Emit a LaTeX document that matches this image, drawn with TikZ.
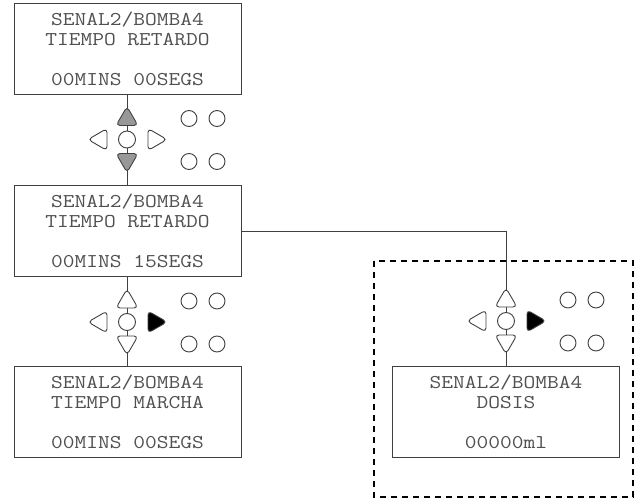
\documentclass[tikz,border=0pt]{standalone}
\usepackage{fontspec}
\newfontfamily\scrfont{Latin Modern Mono}[FakeStretch=1.17]
\definecolor{linec}{HTML}{404040}
\definecolor{textc}{HTML}{505050}
\definecolor{keygray}{HTML}{989898}
\begin{document}
\begin{tikzpicture}[x=1pt,y=-1pt,
  screen/.style={draw=linec, line width=0.9pt, minimum width=227pt, minimum height=91pt,
    inner sep=0pt, font=\fontsize{19.5}{20}\selectfont\scrfont, text=textc, align=center, fill=white},
  key/.style={draw=linec, line width=0.9pt, fill=white, rounded corners=4pt},
  conn/.style={draw=linec, line width=0.9pt},
  frame/.style={draw=black, line width=2pt, dash pattern=on 6pt off 5pt},
  upf/.style={}, downf/.style={}, rightf/.style={},
  keypad/.pic={
    \draw[key, upf] (0,-14) -- (11,-14) -- (0,-33) -- (-11,-14) -- cycle;
    \draw[key, downf] (0,14) -- (11,14) -- (0,33) -- (-11,14) -- cycle;
    \draw[key] (-20,0) -- (-20,-11) -- (-39,0) -- (-20,11) -- cycle;
    \draw[key, rightf] (21,0) -- (21,-11) -- (40,0) -- (21,11) -- cycle;
    \draw[key] (0,0) circle (8.5pt);
    \draw[key] (62,-21) circle (8pt);
    \draw[key] (90,-21) circle (8pt);
    \draw[key] (62,22) circle (8pt);
    \draw[key] (90,22) circle (8pt);
  }]
\useasboundingbox (0,0) rectangle (641,503);
\draw[frame] (374,261) rectangle (633,497);
\node[screen] (s1) at (127.5,48.5) {SENAL2/BOMBA4\\TIEMPO RETARDO\\[20pt]00MINS 00SEGS};
\node[screen] (s2) at (127.5,231) {SENAL2/BOMBA4\\TIEMPO RETARDO\\[20pt]00MINS 15SEGS};
\node[screen] (s3) at (127.5,412) {SENAL2/BOMBA4\\TIEMPO MARCHA\\[20pt]00MINS 00SEGS};
\node[screen] (s4) at (506,411.5) {SENAL2/BOMBA4\\DOSIS\\[20pt]00000ml};
\draw[conn] (s1) -- (s2);
\draw[conn] (s2) -- (s3);
\draw[conn] (s2.east) -| (s4.north);
\pic[upf/.style={fill=keygray}, downf/.style={fill=keygray}] at (127,139.5) {keypad};
\pic[rightf/.style={fill=black}] at (127,322) {keypad};
\pic[rightf/.style={fill=black}] at (506,321) {keypad};
\end{tikzpicture}
\end{document}
